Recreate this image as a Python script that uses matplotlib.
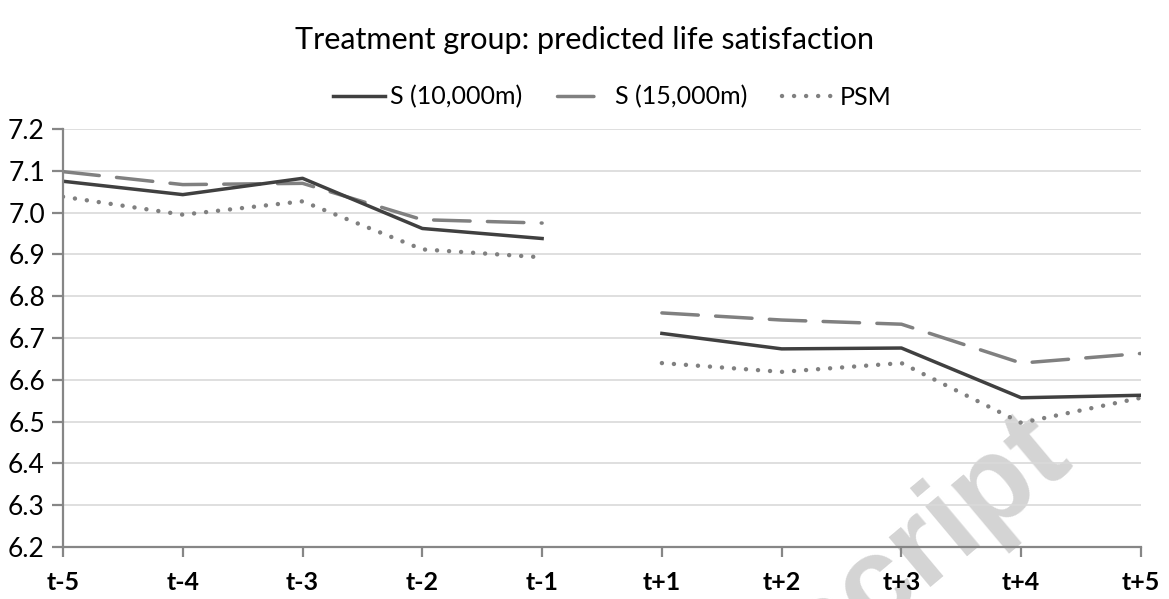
import matplotlib.pyplot as plt
import numpy as np

periods = ["t-5", "t-4", "t-3", "t-2", "t-1", "t+1", "t+2", "t+3", "t+4", "t+5"]

s10_pre = [7.075, 7.043, 7.082, 6.962, 6.938]
s10_post = [6.711, 6.674, 6.676, 6.557, 6.563]
s15_pre = [7.098, 7.067, 7.070, 6.983, 6.975]
s15_post = [6.760, 6.743, 6.733, 6.640, 6.663]
psm_pre = [7.038, 6.995, 7.027, 6.912, 6.893]
psm_post = [6.640, 6.619, 6.640, 6.497, 6.557]

plt.rcParams["font.family"] = ["Lato", "DejaVu Sans"]

fig = plt.figure(figsize=(11.69, 5.99), dpi=100)
ax = fig.add_axes([63 / 1169, 52 / 599, (1141 - 63) / 1169, (547 - 129) / 599])
ax.set_facecolor("none")

x = np.arange(len(periods))
pre, post = x[:5], x[5:]

styles = [
    ("S (10,000m)", s10_pre, s10_post, dict(color="#404040", lw=2.5, ls="-")),
    ("S (15,000m)", s15_pre, s15_post, dict(color="#808080", lw=2.5, dashes=(10.5, 5), dash_capstyle="round")),
    ("PSM", psm_pre, psm_post, dict(color="#808080", lw=3.2, dashes=(0.01, 2.7), dash_capstyle="round")),
]
for label, a, b, kw in styles[::-1]:
    ax.plot(pre, a, label=label, **kw)
    ax.plot(post, b, **kw)

ax.set_xlim(0, 9)
ax.set_ylim(6.2, 7.2)
ax.set_yticks(np.round(np.arange(6.2, 7.21, 0.1), 1))
ax.set_yticklabels([f"{v:.1f}" for v in np.arange(6.2, 7.21, 0.1)], fontsize=19)
ax.set_xticks(x)
ax.set_xticklabels(periods, fontsize=18, fontweight="bold")
ax.grid(axis="y", color="#d9d9d9", lw=1.2)
ax.set_axisbelow(True)

for side in ["top", "right"]:
    ax.spines[side].set_visible(False)
for side in ["left", "bottom"]:
    ax.spines[side].set_color("#868686")
    ax.spines[side].set_linewidth(1.6)
ax.tick_params(axis="y", length=8, width=1.6, color="#868686", pad=5)
ax.tick_params(axis="x", length=7, width=1.6, color="#868686", pad=10)

handles, labels = ax.get_legend_handles_labels()
ax.legend(handles[::-1], labels[::-1], loc="center", bbox_to_anchor=(612 / 1169, (599 - 97) / 599),
          bbox_transform=fig.transFigure, ncol=3, frameon=False, fontsize=18,
          handlelength=2.1, handletextpad=0.2, columnspacing=1.4)

fig.text(0.5, (599 - 40) / 599, "Treatment group: predicted life satisfaction",
         ha="center", va="center", fontsize=22)

# faint watermark from the source page
fig.text(1076 / 1169, (599 - 466) / 599, "Accepted Manuscript", rotation=40,
         rotation_mode="anchor", ha="right", va="baseline", fontsize=88,
         fontweight="bold", color="#d4d4d4", family="Liberation Sans", zorder=-5)

fig.savefig("out.png", dpi=100, facecolor="white")
